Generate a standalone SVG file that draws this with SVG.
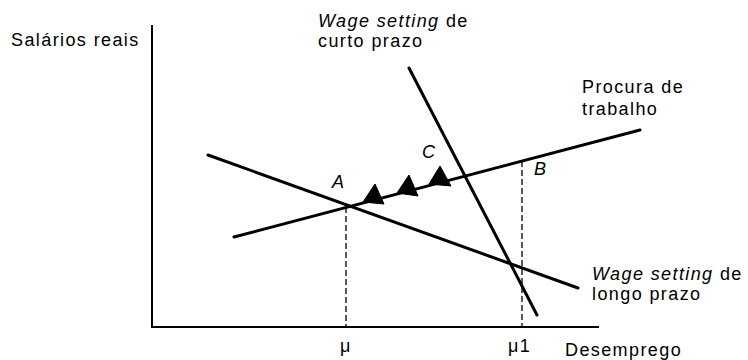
<svg xmlns="http://www.w3.org/2000/svg" width="748" height="360" viewBox="0 0 748 360">
<style>
text{font-family:"Liberation Sans",Arial,sans-serif;font-size:18px;letter-spacing:1.4px;fill:#000}
.it{font-style:italic}
.axis{stroke:#000;stroke-width:2;fill:none}
.curve{stroke:#000;stroke-width:3;fill:none;stroke-linecap:round}
.dash{stroke:#000;stroke-width:1.3;stroke-dasharray:6 3;fill:none}
.tri{fill:#000;stroke:#000;stroke-width:1;stroke-linejoin:round}
</style>
<rect width="748" height="360" fill="#fff"/>
<g id="axes">
<path class="axis" d="M152,25 V327 H599"/>
<text x="11" y="46">Salários reais</text>
<text x="565" y="356">Desemprego</text>
<text x="340" y="352" letter-spacing="0">μ</text>
<text x="508" y="352" letter-spacing="1">μ1</text>
</g>
<g id="connectors">
<path class="dash" d="M346,207 V327"/>
<path class="dash" d="M522,161 V327"/>
</g>
<g id="ws-long">
<line class="curve" x1="208" y1="155" x2="578" y2="288"/>
<text x="592" y="280"><tspan class="it">Wage setting</tspan> de</text>
<text x="592" y="300">longo prazo</text>
</g>
<g id="ws-short">
<line class="curve" x1="409" y1="68" x2="537" y2="315"/>
<text x="318" y="27"><tspan class="it">Wage setting</tspan> de</text>
<text x="318" y="47">curto prazo</text>
</g>
<g id="demand">
<line class="curve" x1="234" y1="237" x2="640" y2="130"/>
<text x="582" y="93">Procura de</text>
<text x="582" y="115">trabalho</text>
</g>
<g id="arrows">
<polygon class="tri" points="375,184 363,202 384,204"/>
<polygon class="tri" points="409,175 397,193 418,196"/>
<polygon class="tri" points="440,166 429,184 451,186"/>
</g>
<g id="point-A"><text class="it" x="332" y="188">A</text></g>
<g id="point-B"><text class="it" x="534" y="175">B</text></g>
<g id="point-C"><text class="it" x="422" y="158">C</text></g>
</svg>
